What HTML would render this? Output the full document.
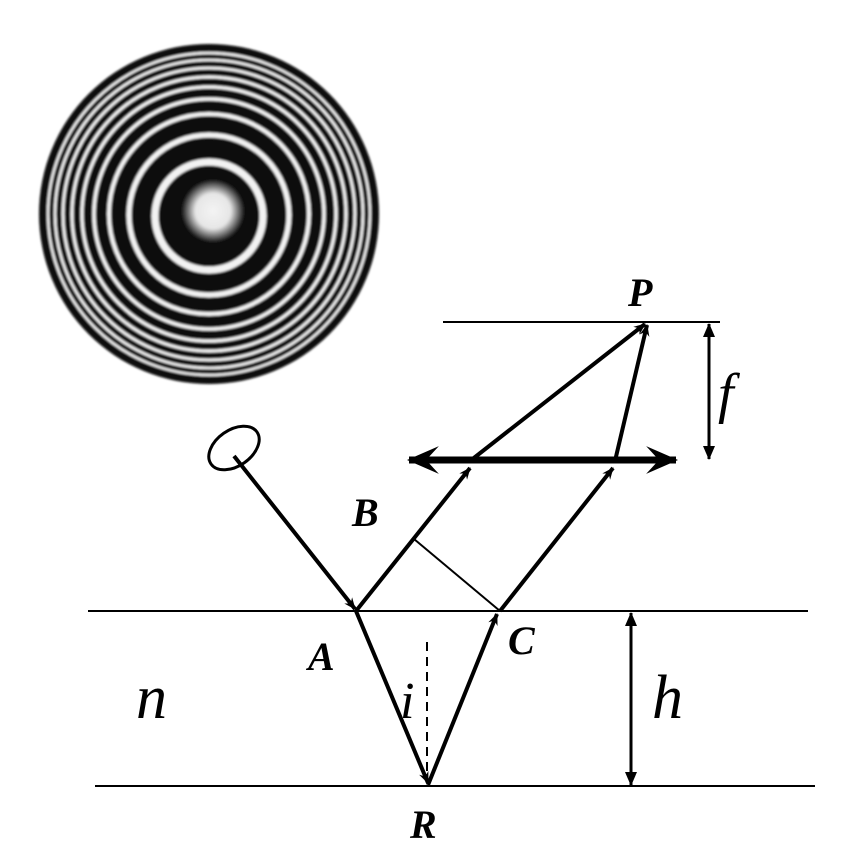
<!DOCTYPE html>
<html><head><meta charset="utf-8"><style>
html,body{margin:0;padding:0;background:#fff;}
svg{display:block;}
text{font-family:"Liberation Serif",serif;font-style:italic;}
</style></head><body>
<svg width="852" height="862" viewBox="0 0 852 862" xmlns="http://www.w3.org/2000/svg">
<defs>
<filter id="bl"><feGaussianBlur stdDeviation="1.1"/></filter>
<radialGradient id="spot"><stop offset="0" stop-color="#f4f4f4"/><stop offset="0.55" stop-color="#e6e6e6"/><stop offset="1" stop-color="#0a0a0a"/></radialGradient>
<marker id="ah" viewBox="0 0 12 10" refX="11" refY="5" markerWidth="12" markerHeight="10" markerUnits="userSpaceOnUse" orient="auto"><path d="M0,0 L12,5 L0,10 L4,5 z" fill="#000"/></marker>
<marker id="ahb" viewBox="0 0 14 12" refX="13" refY="6" markerWidth="14" markerHeight="12" markerUnits="userSpaceOnUse" orient="auto"><path d="M0,0 L14,6 L0,12 z" fill="#000"/></marker>
<marker id="lens" viewBox="0 0 30 26" refX="28" refY="13" markerWidth="32" markerHeight="30" markerUnits="userSpaceOnUse" orient="auto"><path d="M0,0 L30,13 L0,26 L12,13 z" fill="#000"/></marker>
</defs>
<g filter="url(#bl)">
<circle cx="209" cy="214" r="170" fill="#080808"/>
<g fill="none" stroke="#f2f2f2">
<circle cx="209" cy="216" r="54" stroke-width="7"/>
<circle cx="209" cy="215" r="80" stroke-width="5"/>
<circle cx="209" cy="214" r="100" stroke-width="4"/>
<circle cx="209" cy="214" r="115" stroke-width="3.5"/>
<circle cx="209" cy="214" r="127" stroke-width="3.2"/>
<circle cx="209" cy="214" r="137" stroke-width="3"/>
<circle cx="209" cy="214" r="146" stroke-width="2.8"/>
<circle cx="209" cy="214" r="154" stroke-width="2.6"/>
<circle cx="209" cy="214" r="161" stroke-width="2.4"/>
</g>
<circle cx="213" cy="211" r="32" fill="url(#spot)"/>
</g>
<g stroke="#000" fill="none">
<line x1="443" y1="322" x2="720" y2="322" stroke-width="2"/>
<line x1="88" y1="611" x2="808" y2="611" stroke-width="2"/>
<line x1="95" y1="786" x2="815" y2="786" stroke-width="2"/>
<line x1="427" y1="642" x2="427" y2="783" stroke-width="2" stroke-dasharray="9,6"/>
<line x1="414" y1="539" x2="500" y2="611" stroke-width="2"/>
<ellipse cx="234" cy="448" rx="28" ry="18" transform="rotate(-35 234 448)" stroke-width="3"/>
<g stroke-width="4">
<line x1="234" y1="456" x2="355" y2="609" marker-end="url(#ah)"/>
<line x1="356" y1="611" x2="470" y2="468" marker-end="url(#ah)"/>
<line x1="470" y1="461" x2="645" y2="324" marker-end="url(#ah)"/>
<line x1="356" y1="611" x2="428" y2="783" marker-end="url(#ah)"/>
<line x1="428" y1="785" x2="497" y2="614" marker-end="url(#ah)"/>
<line x1="500" y1="611" x2="613" y2="468" marker-end="url(#ah)"/>
<line x1="615" y1="461" x2="647" y2="325" marker-end="url(#ah)"/>
</g>
<line x1="440" y1="460" x2="676" y2="460" stroke-width="7" marker-end="url(#lens)"/>
<line x1="640" y1="460" x2="409" y2="460" stroke-width="7" marker-end="url(#lens)"/>
<line x1="709" y1="340" x2="709" y2="324" stroke-width="3" marker-end="url(#ahb)"/>
<line x1="709" y1="330" x2="709" y2="459" stroke-width="3" marker-end="url(#ahb)"/>
<line x1="631" y1="640" x2="631" y2="613" stroke-width="3" marker-end="url(#ahb)"/>
<line x1="631" y1="620" x2="631" y2="785" stroke-width="3" marker-end="url(#ahb)"/>
</g>
<g fill="#000">
<text x="628" y="306" font-size="40" font-weight="bold">P</text>
<text x="718" y="412" font-size="56">f</text>
<text x="352" y="526" font-size="40" font-weight="bold">B</text>
<text x="308" y="670" font-size="40" font-weight="bold">A</text>
<text x="508" y="654" font-size="40" font-weight="bold">C</text>
<text x="400" y="718" font-size="52">i</text>
<text x="652" y="718" font-size="62">h</text>
<text x="136" y="718" font-size="62">n</text>
<text x="410" y="838" font-size="40" font-weight="bold">R</text>
</g>
</svg>
</body></html>
